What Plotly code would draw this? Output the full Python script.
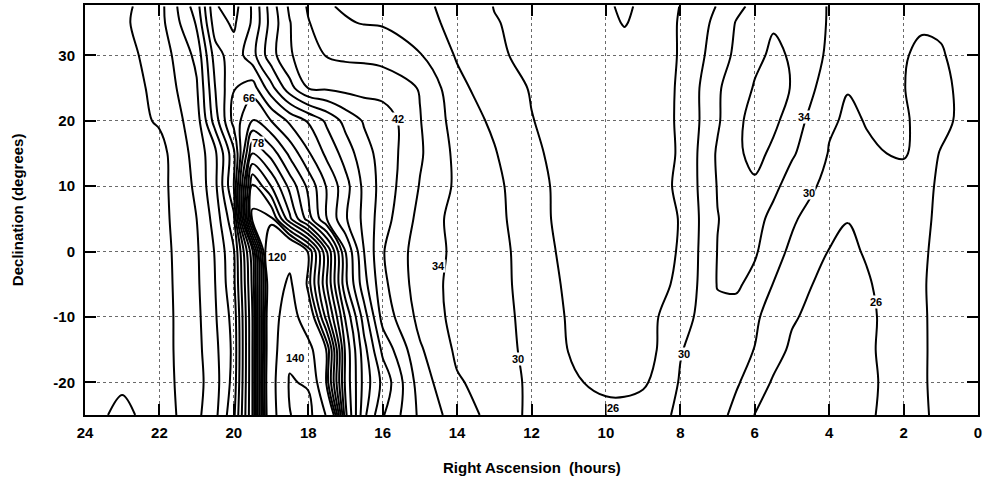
import plotly.graph_objects as go

# Right ascension (hours) of the grid columns and declination (degrees) of the grid rows
ra_hours = [0, 1, 1.5, 2, 3, 3.5, 4, 5, 5.5, 6, 6.5, 7, 8, 9, 9.5, 10, 11, 12, 13, 14,
            15, 16, 16.5, 17, 17.5, 18, 18.5, 19, 19.5, 20, 20.5, 21, 22, 23, 24]
dec_degrees = [-25, -20, -15, -10, -5, 0, 5, 10, 15, 20, 25, 30, 35, 37.5]

# Sky brightness, one list per declination row
row_m25 = [31.3, 31.2, 29.3, 27.5, 25.5, 24, 23, 24.5, 25.3, 25.9, 29, 31.2, 30.5, 28.5, 27.5, 27.2, 27.6, 29.1, 32.7, 36,
           41.2, 50.4, 59, 75, 118, 146, 139.5, 112, 70, 49, 41, 37, 31.5, 29.2, 31.3]
row_m20 = [31.2, 31.3, 29.5, 27.7, 25.2, 23.5, 22.8, 24.2, 25.5, 28.5, 30.4, 31.5, 30.3, 25.3, 24.8, 25.1, 26.6, 29.2, 32.4, 34.4,
           40, 53, 60.5, 73, 100, 138, 141.5, 113, 70, 47.5, 40.5, 36.5, 32.3, 30.5, 31.2]
row_m15 = [31.2, 31, 29.6, 27.8, 25.4, 23.5, 23, 25.2, 27.8, 29.9, 31.8, 32.3, 29.8, 23.8, 23.5, 24.2, 25.9, 29, 31.7, 33.3,
           38.5, 49, 59.5, 73, 101, 126, 136, 112, 70, 47, 41, 36.8, 32.3, 30.8, 31.2]
row_m10 = [31, 30.8, 29.7, 28, 25.2, 24, 23.8, 26.5, 28.5, 30.6, 32.5, 33, 28.3, 24.4, 24, 24.3, 25.7, 28.4, 32, 32.7,
           36.8, 44.5, 56, 69.5, 88, 108, 130, 112, 70, 47.5, 41.6, 37, 32.2, 31, 31]
row_m5 = [31, 30.7, 29.8, 28.2, 25.6, 24.5, 24.8, 27.5, 29.9, 32.8, 34.6, 34.2, 26.5, 24.6, 24.2, 24.4, 25.5, 27.8, 32, 32.8,
          36, 43, 51.5, 63, 82, 100, 123, 110, 71, 49, 42, 37.3, 32.2, 31, 31]
row_0 = [31, 30.6, 29.7, 28.5, 26.3, 25.3, 25.9, 29.2, 31.5, 34.5, 35, 34.1, 26.2, 24.5, 24.2, 24.4, 25.2, 27.5, 32, 33.2,
         36, 42.3, 50, 62, 82, 101.5, 114, 115, 73, 49.6, 42.3, 37.5, 32.3, 31, 31]
row_p5 = [31, 30.5, 29.5, 28.3, 26.8, 26.1, 26.8, 30.6, 32.8, 35.5, 35.2, 33.9, 26.1, 24.6, 24.3, 24.3, 25.1, 27, 31.5, 32.5,
          36.8, 43.7, 49, 54.5, 62, 72, 83, 99, 99.5, 53, 43.5, 38, 32.5, 31, 31]
row_p10 = [31, 30.4, 29.3, 28.8, 28.3, 28.2, 28.9, 32.2, 35, 37.2, 36, 34.2, 26.4, 24.6, 24.2, 24.2, 25.2, 26.8, 31.2, 33.3,
           37.8, 44.4, 49, 55.5, 61.6, 69, 76.8, 86, 94.5, 58, 45, 38.8, 32.5, 31, 31]
row_p15 = [31, 30.1, 29.2, 30.25, 29.7, 29.3, 29.8, 34.5, 37, 39.5, 37, 34.5, 26.2, 24.7, 24.4, 24.3, 25, 26.5, 30.3, 33,
           38.5, 44.5, 47.5, 52.3, 57, 62.5, 69, 76.5, 82, 57, 45, 39.5, 32.5, 31.3, 31]
row_p20 = [31, 29.5, 29.4, 30.3, 30.1, 29.6, 30.4, 36, 39, 39.5, 37, 33.5, 26.3, 24.5, 24.2, 24.2, 24.8, 26.1, 29.3, 32.2,
           38.2, 44.5, 45.6, 48.7, 53.2, 57.6, 61.2, 66, 70.5, 63.5, 52, 40, 34.5, 32, 31]
row_p25 = [31.5, 29.3, 29, 30.1, 30.5, 30.1, 31.8, 37.8, 39.5, 38.3, 36, 33.5, 26.3, 24.3, 23.8, 23.8, 24.3, 25.8, 27.6, 31.2,
           37.8, 40.2, 40.5, 40.8, 41.4, 41.9, 47.5, 55.5, 64, 61.8, 54, 41.5, 35, 32.3, 31.5]
row_p30 = [32, 29.7, 29.5, 30.2, 31.3, 31.6, 33.3, 37.7, 38.6, 37.2, 34.8, 32, 26.2, 24, 23.3, 23.3, 24, 25.4, 26.4, 29.6,
           34.3, 36.8, 37.2, 37.3, 37.8, 39.5, 42.5, 47.5, 55.5, 60.5, 56, 43, 35.5, 32.8, 32]
row_p35 = [32.3, 30.5, 30.3, 31.2, 32.3, 32.8, 33.7, 37.3, 37.7, 36, 34.2, 31, 26.3, 22.9, 21.8, 22.8, 24, 25, 26.2, 29.2,
           31, 33.6, 33.8, 34.3, 36, 38.2, 42.2, 48.5, 57.5, 62.6, 60.5, 46.5, 36.5, 33.3, 32.3]
row_p375 = [32.5, 31.5, 31.5, 32, 33, 33.3, 33.8, 36.5, 37, 35, 33, 30.2, 26.1, 22.8, 21.3, 22.6, 23.8, 24.8, 25.9, 28.5,
            31, 32.5, 33, 33.6, 34.3, 37.6, 41.3, 48, 57.5, 63.5, 61.7, 48, 36.5, 33, 32.5]

# Contour label texts and where they sit (RA, Dec)
label_texts = ["66", "78", "42", "120", "140", "34", "30", "26", "30", "34", "30", "26"]
label_ra = [19.6, 19.35, 15.6, 18.85, 18.35, 14.5, 12.37, 9.8, 7.9, 4.65, 4.55, 2.75]
label_dec = [23.5, 16.6, 20.3, -0.8, -16.3, -2.2, -16.4, -24.0, -15.7, 20.5, 9.0, -7.7]

x_ticks = list(range(0, 25, 2))
x_ticktext = [str(v) for v in x_ticks]
y_ticks = [-20, -10, 0, 10, 20, 30]
y_ticktext = ["-20", "-10", "0", "10", "20", "30"]

z = [row_m25, row_m20, row_m15, row_m10, row_m5, row_0, row_p5,
     row_p10, row_p15, row_p20, row_p25, row_p30, row_p35, row_p375]

fig = go.Figure()
fig.add_trace(go.Contour(
    x=ra_hours, y=dec_degrees, z=z,
    autocontour=False,
    contours=dict(coloring="none", start=22, end=102, size=4, showlabels=False),
    line=dict(color="black", width=2, smoothing=1.0),
    showscale=False, hoverinfo="skip",
))
fig.add_trace(go.Contour(
    x=ra_hours, y=dec_degrees, z=z,
    autocontour=False,
    contours=dict(coloring="none", start=120, end=140, size=20, showlabels=False),
    line=dict(color="black", width=2, smoothing=1.0),
    showscale=False, hoverinfo="skip",
))

label_font = dict(family="Liberation Sans", size=11, color="black", weight="bold")
for t, xr, yd in zip(label_texts, label_ra, label_dec):
    fig.add_annotation(x=xr, y=yd, text=t, showarrow=False, font=label_font,
                       bgcolor="white", borderpad=0)

title_font = dict(family="Liberation Sans", size=15, color="black", weight="bold")
fig.add_annotation(xref="paper", yref="paper", x=0.5, y=-0.127, text="Right Ascension  (hours)",
                   showarrow=False, font=title_font, xanchor="center", yanchor="middle")
fig.add_annotation(xref="paper", yref="paper", x=-0.076, y=0.5, text="Declination (degrees)",
                   showarrow=False, font=title_font, textangle=-90, xanchor="center", yanchor="middle")

axis_common = dict(
    ticks="inside", ticklen=11, tickwidth=2, tickcolor="black",
    showline=True, linewidth=2, linecolor="black", mirror="ticks",
    showgrid=True, gridcolor="#6a6a6a", gridwidth=1, griddash="dot",
    zeroline=False, automargin=False, ticklabeloverflow="allow",
    tickfont=dict(family="Liberation Sans", size=15, color="black", weight="bold"),
)

fig.update_layout(
    width=988, height=480,
    margin=dict(l=85, r=10, t=5, b=65, autoexpand=False),
    paper_bgcolor="white", plot_bgcolor="white",
    showlegend=False,
    xaxis=dict(range=[24, 0], tickvals=x_ticks, ticktext=x_ticktext, ticklabelstandoff=3,
               **axis_common),
    yaxis=dict(range=[-25, 37.7], tickvals=y_ticks, ticktext=y_ticktext, ticklabelstandoff=5,
               **axis_common),
)

fig.write_html("out.html", config={"displayModeBar": False},
               post_script="document.body.style.margin='0';")
